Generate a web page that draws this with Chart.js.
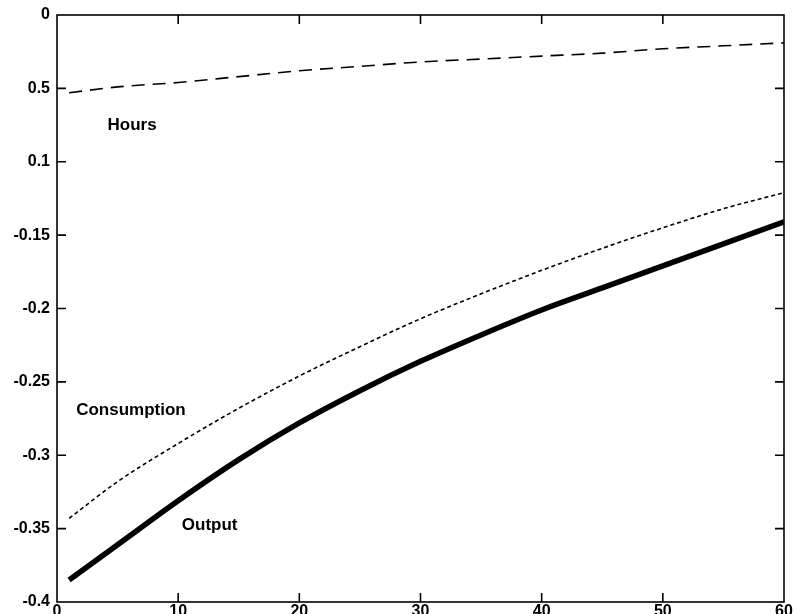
<!DOCTYPE html>
<html lang="en">
<head>
  <meta charset="UTF-8">
  <title>Output, Consumption, Hours</title>
  <script src="https://cdn.jsdelivr.net/npm/chart.js"></script>
  <style>
    body {
      margin: 0;
      background: #fff;
    }
    .wrap {
      width: 797px;
      height: 614px;
    }
  </style>
</head>
<body>
<div class="wrap"><canvas id="irf" width="797" height="614"></canvas></div>

<script>
  // values
  const periods     = [1, 5, 10, 15, 20, 25, 30, 35, 40, 45, 50, 55, 60];
  const output      = [-0.385, -0.361, -0.331, -0.303, -0.278, -0.256, -0.236, -0.218, -0.201, -0.186, -0.171, -0.156, -0.141];
  const consumption = [-0.343, -0.318, -0.292, -0.268, -0.246, -0.226, -0.207, -0.190, -0.174, -0.159, -0.145, -0.132, -0.121];
  const hours       = [-0.053, -0.049, -0.046, -0.042, -0.038, -0.035, -0.032, -0.030, -0.028, -0.026, -0.023, -0.021, -0.019];

  // tick labels as printed (bottom to top)
  const yTickLabels = ['-0.4', '-0.35', '-0.3', '-0.25', '-0.2', '-0.15', '0.1', '0.5', '0'];
  const xTickLabels = ['0', '10', '20', '30', '40', '50', '60'];

  // series names written on the plot, with where they sit (data units)
  const seriesNames = [
    { text: 'Hours',       x: 6.2,  y: -0.075 },
    { text: 'Consumption', x: 6.1,  y: -0.2695 },
    { text: 'Output',      x: 12.6, y: -0.348 }
  ];

  const pts = vals => periods.map((p, i) => ({ x: p, y: vals[i] }));
  const font = { family: 'Liberation Sans, Arial, sans-serif', size: 16, weight: 'bold' };

  // box round the plot with ticks pointing in, like the original
  const frame = {
    id: 'frame',
    afterDraw(chart) {
      const { ctx, chartArea: a, scales } = chart;
      ctx.save();
      ctx.strokeStyle = '#000';
      ctx.lineWidth = 1.6;
      ctx.strokeRect(a.left, a.top, a.right - a.left, a.bottom - a.top);
      const len = 9;
      ctx.beginPath();
      scales.x.ticks.forEach(t => {
        const px = scales.x.getPixelForValue(t.value);
        if (px <= a.left + 1 || px >= a.right - 1) return;
        ctx.moveTo(px, a.bottom); ctx.lineTo(px, a.bottom - len);
        ctx.moveTo(px, a.top); ctx.lineTo(px, a.top + len);
      });
      scales.y.ticks.forEach(t => {
        const py = scales.y.getPixelForValue(t.value);
        if (py <= a.top + 1 || py >= a.bottom - 1) return;
        ctx.moveTo(a.left, py); ctx.lineTo(a.left + len, py);
        ctx.moveTo(a.right, py); ctx.lineTo(a.right - len, py);
      });
      ctx.stroke();

      ctx.fillStyle = '#000';
      ctx.font = 'bold 17px "Liberation Sans", Arial, sans-serif';
      ctx.textAlign = 'center';
      ctx.textBaseline = 'middle';
      seriesNames.forEach(n => {
        ctx.fillText(n.text, scales.x.getPixelForValue(n.x), scales.y.getPixelForValue(n.y));
      });
      ctx.restore();
    }
  };

  new Chart(document.getElementById('irf'), {
    type: 'line',
    data: {
      datasets: [
        { label: 'Output', data: pts(output), borderColor: '#000', borderWidth: 5.5, cubicInterpolationMode: 'monotone' },
        { label: 'Consumption', data: pts(consumption), borderColor: '#000', borderWidth: 1.6, borderDash: [4, 3], cubicInterpolationMode: 'monotone' },
        { label: 'Hours', data: pts(hours), borderColor: '#000', borderWidth: 1.6, borderDash: [13, 8], cubicInterpolationMode: 'monotone' }
      ]
    },
    options: {
      responsive: false,
      animation: false,
      events: [],
      layout: { padding: { top: 15, right: 13, bottom: 0, left: 0 } },
      elements: { point: { radius: 0 } },
      plugins: { legend: { display: false }, tooltip: { enabled: false } },
      scales: {
        x: {
          type: 'linear',
          min: 0, max: 60,
          grid: { display: false, drawTicks: false },
          border: { display: false },
          ticks: {
            stepSize: 10, padding: 0, color: '#000', font: font,
            maxRotation: 0,
            callback: (v, i) => xTickLabels[i]
          },
          afterFit: s => { s.height = 12; }
        },
        y: {
          min: -0.4, max: 0,
          grid: { display: false, drawTicks: false },
          border: { display: false },
          ticks: {
            stepSize: 0.05, padding: 7, color: '#000', font: font,
            callback: (v, i) => yTickLabels[i]
          },
          afterFit: s => { s.width = 57; s.paddingTop = 0; s.paddingBottom = 0; }
        }
      }
    },
    plugins: [frame]
  });
</script>
</body>
</html>
